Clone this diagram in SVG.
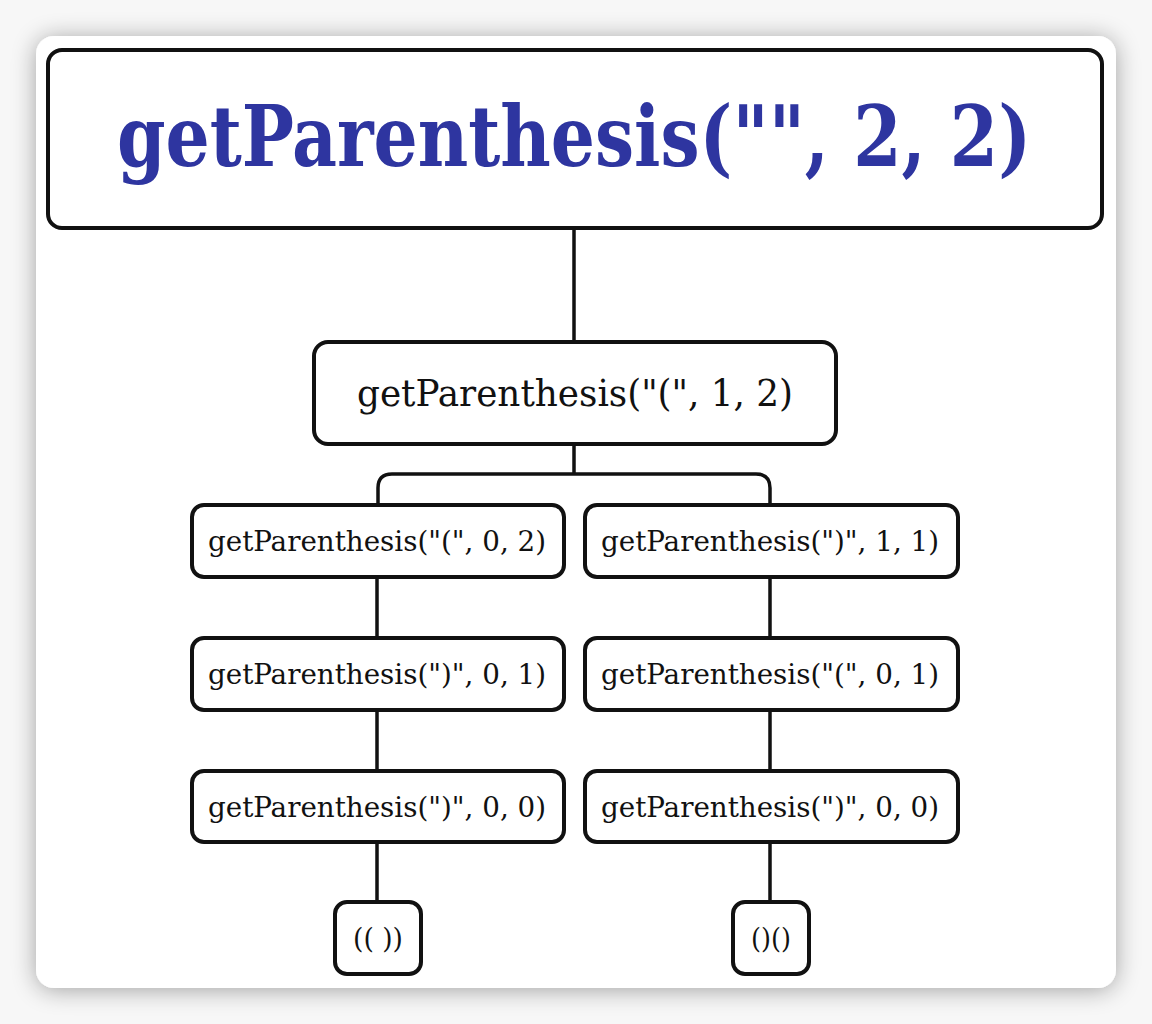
<svg xmlns="http://www.w3.org/2000/svg" width="1152" height="1024" viewBox="0 0 1152 1024">
<defs>
<filter id="sh" x="-10%" y="-10%" width="120%" height="120%">
<feGaussianBlur in="SourceAlpha" stdDeviation="12"/>
<feOffset dx="0" dy="2"/>
<feComponentTransfer><feFuncA type="linear" slope="0.35"/></feComponentTransfer>
<feMerge><feMergeNode/><feMergeNode in="SourceGraphic"/></feMerge>
</filter>
<style>
.box{fill:#fff;stroke:#111;stroke-width:4}
.ln{fill:none;stroke:#111;stroke-width:3.5}
.t{font-family:"DejaVu Serif Condensed","DejaVu Serif",serif;fill:#111;text-anchor:middle}
.title{font-family:"DejaVu Serif Condensed","DejaVu Serif",serif;fill:#2e35a0;font-weight:bold;text-anchor:middle}
</style>
</defs>
<rect x="0" y="0" width="1152" height="1024" fill="#f7f7f7"/>
<rect x="36" y="36" width="1080" height="952" rx="18" fill="#fff" filter="url(#sh)"/>
<g id="connectors">
<path class="ln" d="M574 228V342"/>
<path class="ln" d="M574 444V474M378 505V488Q378 474 392 474H756Q770 474 770 488V505"/>
<path class="ln" d="M377 577V638M377 710V771M377 842V902"/>
<path class="ln" d="M770 577V638M770 710V771M770 842V902"/>
</g>
<g id="root"><rect class="box" x="48" y="50" width="1054" height="178" rx="14"/><text class="title" x="574" y="166" font-size="84" textLength="914" lengthAdjust="spacingAndGlyphs">getParenthesis("", 2, 2)</text></g>
<g id="n1"><rect class="box" x="314" y="342" width="522" height="102" rx="14"/><text class="t" x="575" y="406" font-size="37" textLength="436" lengthAdjust="spacingAndGlyphs">getParenthesis("(", 1, 2)</text></g>
<g id="l1"><rect class="box" x="192" y="505" width="372" height="72" rx="12"/><text class="t" x="377" y="551" font-size="27" textLength="338" lengthAdjust="spacingAndGlyphs">getParenthesis("(", 0, 2)</text></g>
<g id="r1"><rect class="box" x="585" y="505" width="373" height="72" rx="12"/><text class="t" x="770" y="551" font-size="27" textLength="338" lengthAdjust="spacingAndGlyphs">getParenthesis(")", 1, 1)</text></g>
<g id="l2"><rect class="box" x="192" y="638" width="372" height="72" rx="12"/><text class="t" x="377" y="684" font-size="27" textLength="338" lengthAdjust="spacingAndGlyphs">getParenthesis(")", 0, 1)</text></g>
<g id="r2"><rect class="box" x="585" y="638" width="373" height="72" rx="12"/><text class="t" x="770" y="684" font-size="27" textLength="338" lengthAdjust="spacingAndGlyphs">getParenthesis("(", 0, 1)</text></g>
<g id="l3"><rect class="box" x="192" y="771" width="372" height="71" rx="12"/><text class="t" x="377" y="817" font-size="27" textLength="338" lengthAdjust="spacingAndGlyphs">getParenthesis(")", 0, 0)</text></g>
<g id="r3"><rect class="box" x="585" y="771" width="373" height="71" rx="12"/><text class="t" x="770" y="817" font-size="27" textLength="338" lengthAdjust="spacingAndGlyphs">getParenthesis(")", 0, 0)</text></g>
<g id="leafL"><rect class="box" x="335" y="902" width="86" height="72" rx="12"/><text class="t" x="378" y="948" font-size="28" textLength="50" lengthAdjust="spacingAndGlyphs">(( ))</text></g>
<g id="leafR"><rect class="box" x="733" y="902" width="76" height="72" rx="12"/><text class="t" x="771" y="948" font-size="28" textLength="40" lengthAdjust="spacingAndGlyphs">()()</text></g>
</svg>
